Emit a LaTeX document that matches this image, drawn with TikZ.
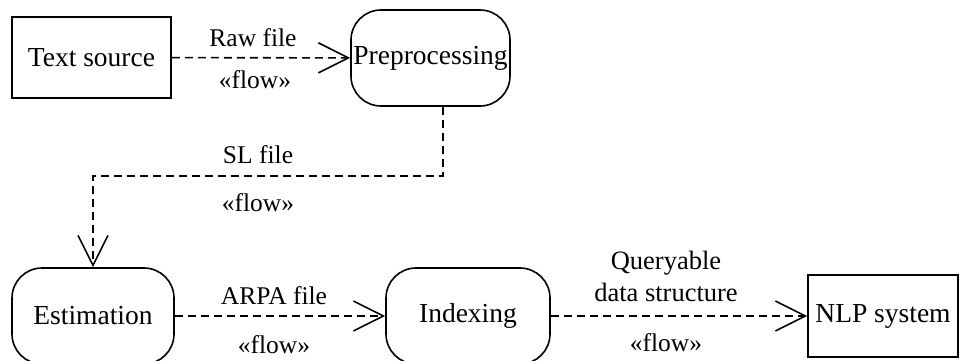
\documentclass[tikz,border=0pt]{standalone}
\usepackage{fontspec}
\setmainfont{Liberation Serif}
\usetikzlibrary{arrows.meta}
\begin{document}
\begin{tikzpicture}[x=1pt,y=1pt,
  box/.style={draw,line width=1.6pt,inner sep=0pt,font=\fontsize{27.5}{30}\selectfont},
  rbox/.style={box,rounded corners=30pt},
  flow/.style={line width=1.6pt,dash pattern=on 8pt off 5pt,-{Straight Barb[length=30pt,width=30pt,line width=1.6pt]}},
  lbl/.style={font=\fontsize{25.5}{32}\selectfont,inner sep=0pt,align=center}]
\useasboundingbox (0,0) rectangle (960,-360);
\node[box,minimum width=159pt,minimum height=81pt] (ts) at (91.5,-57.5) {Text source};
\node[rbox,minimum width=159pt,minimum height=96pt] (pp) at (430.5,-58) {Preprocessing};
\node[rbox,minimum width=162pt,minimum height=96pt] (est) at (93,-316) {Estimation};
\node[rbox,minimum width=164pt,minimum height=96pt] (idx) at (468,-316) {Indexing};
\node[box,minimum width=150pt,minimum height=82pt] (nlp) at (883,-316) {NLP system};
\draw[flow] (ts) -- (pp);
\node[lbl] (l1) at (253,-38) {Raw file};
\node[lbl] (l1b) at (255,-80) {«flow»};
\draw[flow] ([xshift=12.5pt]pp.south) -- ++(0,-69) -| (est.north);
\node[lbl] (l2) at (258,-155) {SL file};
\node[lbl] (l2b) at (258,-203) {«flow»};
\draw[flow] (est) -- (idx);
\node[lbl] (l3) at (274,-296) {ARPA file};
\node[lbl] (l3b) at (274,-345) {«flow»};
\draw[flow] (idx) -- (nlp);
\node[lbl,font=\fontsize{26.5}{32}\selectfont] (l4) at (666,-276) {Queryable\\data structure};
\node[lbl] (l4b) at (666,-343) {«flow»};
\end{tikzpicture}
\end{document}
